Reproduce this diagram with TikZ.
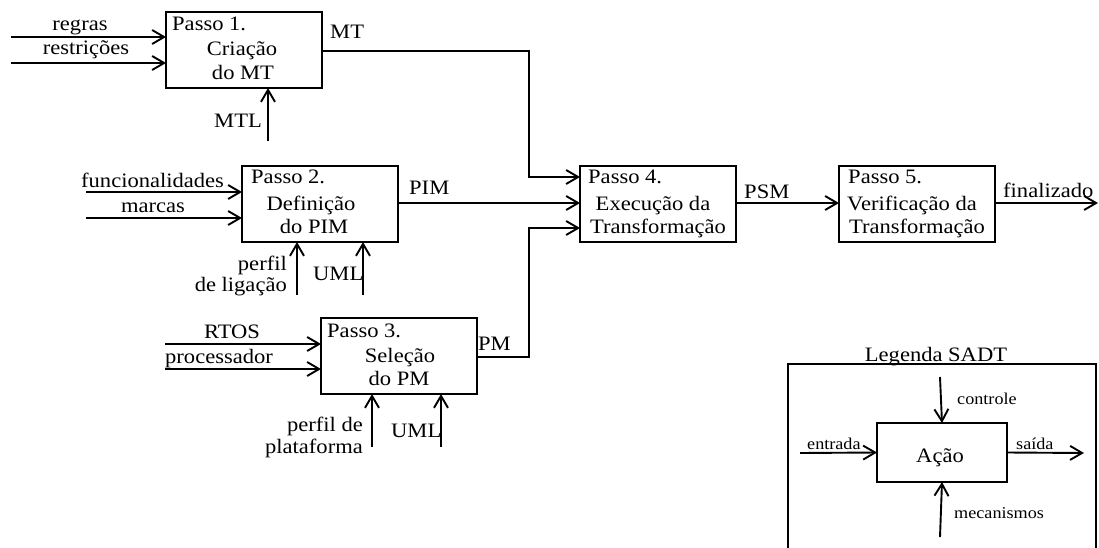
\documentclass[tikz,border=0pt]{standalone}
\usepackage{fontspec}
\setmainfont{Liberation Serif}[FakeStretch=1.1]
\usetikzlibrary{arrows.meta}
\begin{document}
\begin{tikzpicture}[x=1pt,y=-1pt,
  proc/.style={draw, line width=1.9pt, minimum width=156pt, minimum height=76pt, inner sep=0pt, outer sep=0pt, anchor=north west},
  arr/.style={line width=1.9pt, -{Straight Barb[length=12pt,width=14pt,line width=1.9pt]}},
  ln/.style={line width=1.9pt},
  txt/.style={font=\fontsize{20.5}{24}\selectfont, inner sep=0pt},
  sml/.style={font=\fontsize{16.5}{20}\selectfont, inner sep=0pt}]
\useasboundingbox (0,0) rectangle (1099,548);
% boxes
\node[proc] (b1) at (166,12) {};
\node[proc] (b2) at (242,166) {};
\node[proc] (b3) at (321,318) {};
\node[proc] (b4) at (580,166) {};
\node[proc] (b5) at (839,166) {};
% box texts
\node[txt,anchor=base west] (t1a) at (172,31) {Passo 1.};
\node[txt,anchor=base] (t1b) at (242,56) {Criação};
\node[txt,anchor=base] (t1c) at (243,80) {do MT};
\node[txt,anchor=base west] (t2a) at (251,183) {Passo 2.};
\node[txt,anchor=base] (t2b) at (311,210) {Definição};
\node[txt,anchor=base] (t2c) at (314,233) {do PIM};
\node[txt,anchor=base west] (t3a) at (327,337) {Passo 3.};
\node[txt,anchor=base] (t3b) at (400,362) {Seleção};
\node[txt,anchor=base] (t3c) at (399,385) {do PM};
\node[txt,anchor=base west] (t4a) at (588,183) {Passo 4.};
\node[txt,anchor=base] (t4b) at (653,210) {Execução da};
\node[txt,anchor=base] (t4c) at (658,233) {Transformação};
\node[txt,anchor=base west] (t5a) at (848,183) {Passo 5.};
\node[txt,anchor=base] (t5b) at (912,210) {Verificação da};
\node[txt,anchor=base] (t5c) at (917,233) {Transformação};
% free ends
\coordinate (i1a) at (11,37);
\coordinate (i1b) at (11,63);
\coordinate (m1) at (268,141);
\coordinate (i2a) at (86,192);
\coordinate (i2b) at (86,218);
\coordinate (m2a) at (297,295);
\coordinate (m2b) at (363,295);
\coordinate (i3a) at (165,344);
\coordinate (i3b) at (165,369);
\coordinate (m3a) at (372,447);
\coordinate (m3b) at (441,447);
\coordinate (o5) at (1098,203);
% connectors step 1
\draw[arr] (i1a) -- (i1a -| b1.west);
\draw[arr] (i1b) -- (i1b -| b1.west);
\draw[arr] (m1) -- (m1 |- b1.south);
\draw[arr] (b1.east |- 0,51) -- (529,51) -- (529,177) -- (b4.west |- 0,177);
% step 2
\draw[arr] (i2a) -- (i2a -| b2.west);
\draw[arr] (i2b) -- (i2b -| b2.west);
\draw[arr] (m2a) -- (m2a |- b2.south);
\draw[arr] (m2b) -- (m2b |- b2.south);
\draw[arr] (b2.east |- 0,203) -- (b4.west |- 0,203);
% step 3
\draw[arr] (i3a) -- (i3a -| b3.west);
\draw[arr] (i3b) -- (i3b -| b3.west);
\draw[arr] (m3a) -- (m3a |- b3.south);
\draw[arr] (m3b) -- (m3b |- b3.south);
\draw[arr] (b3.east |- 0,357) -- (529,357) -- (529,228) -- (b4.west |- 0,228);
% step 4, 5
\draw[arr] (b4.east |- 0,203) -- (b5.west |- 0,203);
\draw[arr] (b5.east |- 0,203) -- (o5);
% labels
\node[txt,anchor=base] (lregras) at (80,31) {regras};
\node[txt,anchor=base] (lrestr) at (86,55) {restrições};
\node[txt,anchor=base east] (lmtl) at (262,128) {MTL};
\node[txt,anchor=base west] (lmt) at (330,39) {MT};
\node[txt,anchor=base west] (lfunc) at (81,187) {funcionalidades};
\node[txt,anchor=base] (lmarcas) at (153,212) {marcas};
\node[txt,anchor=base east] (lperfil) at (287,270) {perfil};
\node[txt,anchor=base east] (llig) at (287,291) {de ligação};
\node[txt,anchor=base west] (luml2) at (313,280) {UML};
\node[txt,anchor=base west] (lpim) at (409,194) {PIM};
\node[txt,anchor=base] (lrtos) at (232,338) {RTOS};
\node[txt,anchor=base west] (lproc) at (165,363) {processador};
\node[txt,anchor=base west] (lpm) at (478,350) {PM};
\node[txt,anchor=base east] (lperfd) at (363,431) {perfil de};
\node[txt,anchor=base east] (lplat) at (363,453) {plataforma};
\node[txt,anchor=base west] (luml3) at (391,437) {UML};
\node[txt,anchor=base west] (lpsm) at (744,198) {PSM};
\node[txt,anchor=base west] (lfin) at (1003,197) {finalizado};
% legend
\draw[ln] (788,560) -- (788,364) -- (1096,364) -- (1096,560);
\node[txt,anchor=base] (ltitle) at (936,361) {Legenda SADT};
\node[draw, line width=1.9pt, minimum width=130pt, minimum height=59pt, inner sep=0pt, outer sep=0pt, anchor=north west] (acao) at (877,423) {};
\node[txt,anchor=base] (lacao) at (940,462) {Ação};
\coordinate (lc) at (940,377);
\coordinate (lm) at (940,537);
\coordinate (le) at (800,453);
\coordinate (ls) at (1084,453);
\draw[arr] (lc) -- (acao.north);
\draw[arr] (lm) -- (acao.south);
\draw[arr] (le) -- (acao.west);
\draw[arr] (acao.east) -- (ls);
\node[sml,anchor=base west] (lcont) at (957,404) {controle};
\node[sml,anchor=base west] (lentr) at (807,449) {entrada};
\node[sml,anchor=base west] (lsaida) at (1016,449) {saída};
\node[sml,anchor=base west] (lmec) at (954,518) {mecanismos};
\end{tikzpicture}
\end{document}
